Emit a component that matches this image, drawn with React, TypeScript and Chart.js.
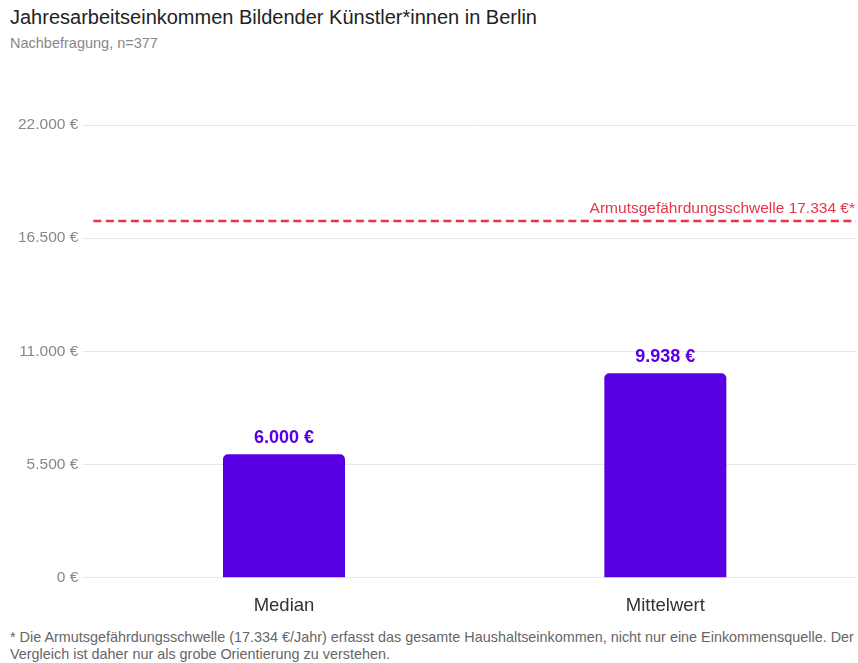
import React, { useEffect, useRef } from "react";
import { Chart, registerables } from "chart.js";

Chart.register(...registerables);

const categories = ["Median", "Mittelwert"];
const values = [6000, 9938];
const valueLabels = ["6.000 €", "9.938 €"];
const thresholdValue = 17334;
const thresholdLabel = "Armutsgefährdungsschwelle 17.334 €*";
const yTicks = [0, 5500, 11000, 16500, 22000];

const PURPLE = "#5700e3";
const RED = "#e8334a";
const SANS = "'Liberation Sans', Arial, sans-serif";

const fmt = (v: number) => (v === 0 ? "0 €" : v.toLocaleString("de-DE") + " €");

export default function App() {
  const ref = useRef<HTMLCanvasElement | null>(null);

  useEffect(() => {
    document.body.style.margin = "0";
    const overlay = {
      id: "overlay",
      afterDatasetsDraw(chart: any) {
        const { ctx, chartArea, scales } = chart;
        const y = scales.y.getPixelForValue(thresholdValue);
        ctx.save();
        ctx.strokeStyle = RED;
        ctx.lineWidth = 2.5;
        ctx.setLineDash([8, 4.5]);
        ctx.beginPath();
        ctx.moveTo(chartArea.left, y);
        ctx.lineTo(chartArea.right, y);
        ctx.stroke();
        ctx.setLineDash([]);
        ctx.fillStyle = RED;
        ctx.font = "15.5px " + SANS;
        ctx.textAlign = "right";
        ctx.textBaseline = "alphabetic";
        ctx.fillText(thresholdLabel, chartArea.right - 1, y - 8);

        const meta = chart.getDatasetMeta(0);
        ctx.fillStyle = PURPLE;
        ctx.font = "bold 18px " + SANS;
        ctx.textAlign = "center";
        meta.data.forEach((bar: any, i: number) => {
          ctx.fillText(valueLabels[i], bar.x, bar.y - 11);
        });
        ctx.restore();
      },
    };

    const chart = new Chart(ref.current!, {
      type: "bar",
      data: {
        labels: categories,
        datasets: [
          {
            data: values,
            backgroundColor: PURPLE,
            borderRadius: { topLeft: 5, topRight: 5, bottomLeft: 0, bottomRight: 0 },
            borderSkipped: false,
            categoryPercentage: 0.8,
            barPercentage: 0.4,
          },
        ],
      },
      options: {
        animation: false,
        responsive: false,
        maintainAspectRatio: false,
        layout: { padding: { top: 65, right: 2, left: 14, bottom: 0 } },
        plugins: { legend: { display: false }, tooltip: { enabled: false } },
        scales: {
          x: {
            grid: { display: false },
            border: { display: false },
            ticks: {
              color: "#333",
              font: { family: SANS, size: 18.5 },
              padding: 9,
            },
          },
          y: {
            min: 0,
            max: 22000,
            afterBuildTicks: (axis: any) => {
              axis.ticks = yTicks.map((v) => ({ value: v }));
            },
            border: { display: false },
            grid: { color: "#e8e8e8", tickLength: 11, lineWidth: 1 },
            ticks: {
              color: "#888",
              font: { family: SANS, size: 15.5 },
              padding: 4,
              callback: (v: any) => fmt(Number(v)),
            },
          },
        },
      },
      plugins: [overlay],
    });
    return () => chart.destroy();
  }, []);

  return (
    <div style={{ position: "relative", width: 858, height: 663, fontFamily: SANS }}>
      <div style={{ position: "absolute", left: 10, top: 6, fontSize: 20, color: "#222", whiteSpace: "nowrap" }}>
        Jahresarbeitseinkommen Bildender Künstler*innen in Berlin
      </div>
      <div style={{ position: "absolute", left: 10, top: 35, fontSize: 14.5, color: "#888", whiteSpace: "nowrap" }}>
        Nachbefragung, n=377
      </div>
      <canvas ref={ref} width={858} height={566} style={{ position: "absolute", left: 0, top: 60, width: 858, height: 566 }} />
      <div style={{ position: "absolute", left: 10, top: 629, width: 848, fontSize: 14.4, lineHeight: "17px", color: "#666" }}>
        * Die Armutsgefährdungsschwelle (17.334 €/Jahr) erfasst das gesamte Haushaltseinkommen, nicht nur eine Einkommensquelle. Der Vergleich ist daher nur als grobe Orientierung zu verstehen.
      </div>
    </div>
  );
}
